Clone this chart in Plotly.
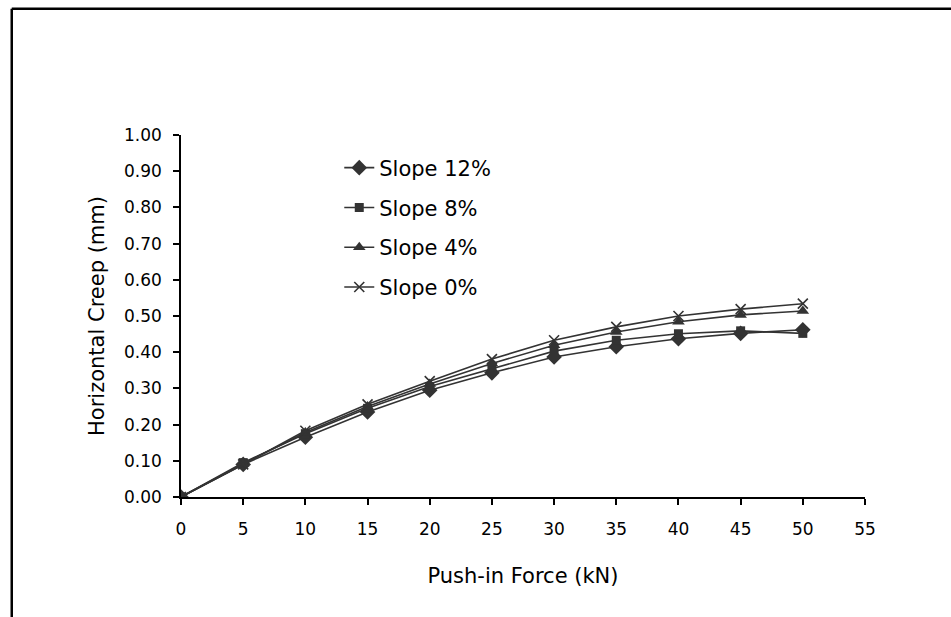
import plotly.graph_objects as go

# Push-in force (kN) and horizontal creep (mm) for each slope
force = [0, 5, 10, 15, 20, 25, 30, 35, 40, 45, 50]
slope_12 = [0.000, 0.090, 0.165, 0.235, 0.295, 0.343, 0.387, 0.415, 0.437, 0.452, 0.462]
slope_8 = [0.000, 0.095, 0.175, 0.245, 0.305, 0.355, 0.403, 0.433, 0.451, 0.459, 0.452]
slope_4 = [0.000, 0.092, 0.178, 0.250, 0.312, 0.369, 0.419, 0.456, 0.484, 0.503, 0.514]
slope_0 = [0.000, 0.090, 0.183, 0.256, 0.320, 0.381, 0.433, 0.470, 0.500, 0.519, 0.534]

series_names = ["Slope 12%", "Slope 8%", "Slope 4%", "Slope 0%"]
x_ticks = [0, 5, 10, 15, 20, 25, 30, 35, 40, 45, 50, 55]
y_ticks = [0.0, 0.1, 0.2, 0.3, 0.4, 0.5, 0.6, 0.7, 0.8, 0.9, 1.0]

INK = "#333333"
FONT = "DejaVu Sans"

styles = [
    dict(symbol="diamond", size=12),
    dict(symbol="square", size=9),
    dict(symbol="triangle-up", size=11),
    dict(symbol="x-thin", size=10, line=dict(width=1.6, color=INK)),
]

fig = go.Figure()
for name, values, st in zip(series_names, [slope_12, slope_8, slope_4, slope_0], styles):
    fig.add_trace(go.Scatter(
        x=force, y=values, name=name, mode="lines+markers",
        legendgroup=name,
        line=dict(color=INK, width=1.6),
        marker=dict(color=INK, **st),
    ))

W, H = 951, 617
L, R, T, B = 180.5, 85.5, 134.5, 120
pw, ph = W - L - R, H - T - B


def px_to_paper_x(px):
    return (px - L) / pw


def px_to_paper_y(py):
    return (H - B - py) / ph


fig.update_layout(
    width=W, height=H,
    margin=dict(l=L, r=R, t=T, b=B, pad=0),
    paper_bgcolor="white", plot_bgcolor="white",
    font=dict(family=FONT, color="black", size=17),
    showlegend=True,
    legend=dict(
        x=px_to_paper_x(339), y=px_to_paper_y(147),
        xanchor="left", yanchor="top",
        font=dict(family=FONT, size=21, color="black"),
        bgcolor="rgba(0,0,0,0)", borderwidth=0,
        traceorder="grouped", tracegroupgap=9.5,
    ),
    xaxis=dict(
        range=[0, 55], tickvals=x_ticks, ticktext=[str(v) for v in x_ticks],
        showgrid=False, zeroline=False,
        showline=True, linecolor="black", linewidth=1.5,
        ticks="outside", ticklen=6, tickwidth=1.5, tickcolor="black",
        ticklabelstandoff=10,
        title=dict(text="Push-in Force (kN)", font=dict(size=21), standoff=30),
        fixedrange=True,
    ),
    yaxis=dict(
        range=[0, 1.0], tickvals=y_ticks, tickformat=".2f",
        showgrid=False, zeroline=False,
        showline=True, linecolor="black", linewidth=1.5,
        ticks="outside", ticklen=6, tickwidth=1.5, tickcolor="black",
        ticklabelstandoff=8,
        title=dict(text="Horizontal Creep (mm)", font=dict(size=21), standoff=14),
        fixedrange=True,
    ),
)

# Outer frame edges: top and left borders of the chart area
frame = dict(type="line", xref="paper", yref="paper",
             line=dict(color="black", width=2.5), layer="below")
fig.add_shape(x0=px_to_paper_x(11), x1=px_to_paper_x(960),
              y0=px_to_paper_y(8), y1=px_to_paper_y(8), **frame)
fig.add_shape(x0=px_to_paper_x(11), x1=px_to_paper_x(11),
              y0=px_to_paper_y(8), y1=px_to_paper_y(640), **frame)

fig.write_html("out.html")
